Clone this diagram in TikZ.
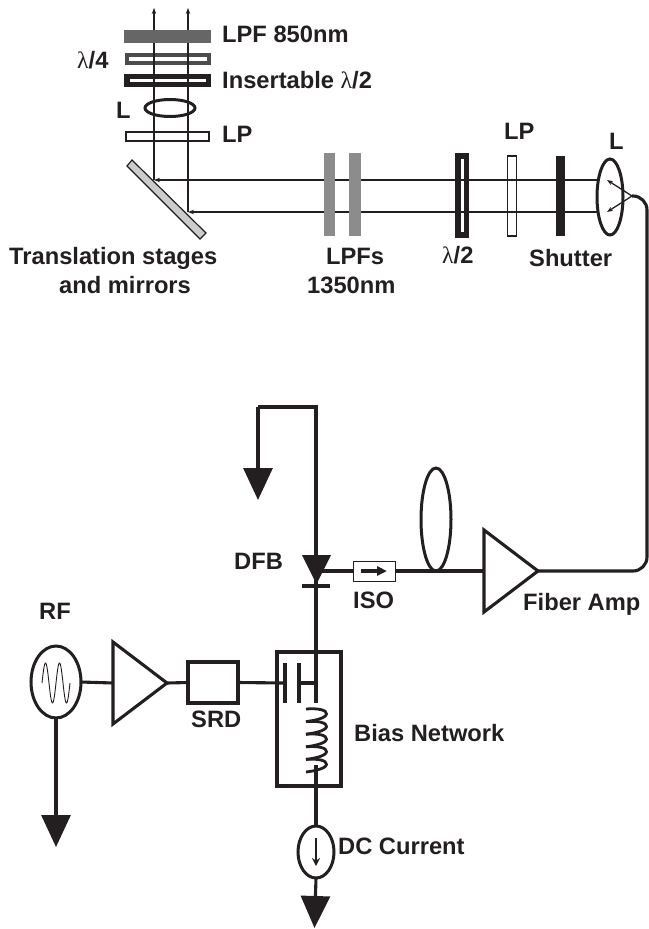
\documentclass[tikz,border=0pt]{standalone}
\usepackage{fontspec}
\setmainfont{Liberation Sans}
\newfontfamily\lambdafont{Liberation Serif}
\usetikzlibrary{arrows.meta,shapes.geometric}
\definecolor{inkblack}{HTML}{231F20}
\newcommand{\lam}{{\lambdafont\mdseries λ}}
\begin{document}
\begin{tikzpicture}[x=1pt, y=-1pt,
    wire/.style={draw=inkblack, line width=3.1pt},
    beam/.style={draw=inkblack, line width=1.3pt},
    ground/.style={wire, -{Triangle[length=32pt,width=29pt,inkblack]}},
    tiny arrow/.style={beam, -{Stealth[length=6pt,width=4.5pt,inkblack]}},
    label/.style={font=\fontsize{23.7}{27}\selectfont\bfseries, text=inkblack, inner sep=0pt, anchor=base west},
    plate/.style={rectangle, inner sep=0pt, outer sep=0pt},
    filter/.style={plate, fill=#1},
    lens/.style={ellipse, draw=inkblack, fill=none, line width=3pt, inner sep=0pt, outer sep=0pt},
    amp/.style={isosceles triangle, isosceles triangle stretches, draw=inkblack, line width=3.1pt,
        inner sep=0pt, outer sep=0pt, minimum width=82pt, minimum height=54pt, anchor=lower side},
    sourcebox/.style={rectangle, draw=inkblack, line width=3.1pt, inner sep=0pt, outer sep=0pt}
]

\useasboundingbox (0,0) rectangle (648,929);

%%%%%%%%%%%%%%%%%%%%%%%%
% Wave plates, under the beams
%%%%%%%%%%%%%%%%%%%%%%%%

\node[filter={black!70}, minimum width=86pt, minimum height=12pt] (quarter) at (168,59) {};
\node[filter=white, minimum width=78pt, minimum height=4pt] (quartergap) at (168,59) {};

\node[filter=inkblack, minimum width=87pt, minimum height=13pt] (half) at (167.5,80.5) {};
\node[filter=white, minimum width=76pt, minimum height=3pt] (halfgap) at (168,80.5) {};

\node[filter=inkblack, minimum width=14pt, minimum height=85pt] (halfb) at (462,195.5) {};
\node[filter=white, minimum width=3pt, minimum height=73pt] (halfbgap) at (462.5,195.5) {};

%%%%%%%%%%%%%%%%%%%%%%%%
% Free space beams
%%%%%%%%%%%%%%%%%%%%%%%%

% --- Points on the beams ---
\coordinate (topa) at (154,8);
\coordinate (topb) at (188,8);
\coordinate (mira) at (154,180);
\coordinate (mirb) at (188,212);
\coordinate (lensa) at (598,180);
\coordinate (lensb) at (598,212);
\coordinate (fibertip) at (632,196);
\coordinate (spota) at (607,180);
\coordinate (spotb) at (607,212);

\draw[tiny arrow] (mira) -- (topa);
\draw[tiny arrow] (mirb) -- (topb);
\draw[tiny arrow] (lensa) -- (mira);
\draw[tiny arrow] (lensb) -- (mirb);
\draw[tiny arrow] (fibertip) -- (spota);
\draw[tiny arrow] (fibertip) -- (spotb);

%%%%%%%%%%%%%%%%%%%%%%%%
% Upper optics
%%%%%%%%%%%%%%%%%%%%%%%%

\node[filter={black!60}, minimum width=87pt, minimum height=13pt] (lpfshort) at (167.5,36.5) {};

\node[lens, minimum width=50pt, minimum height=17pt] (lensup) at (170,108) {};
\node[plate, draw=inkblack, line width=1.5pt, minimum width=83pt, minimum height=9pt] (lpup) at (167.5,136.5) {};

% --- Mirror ---
\draw[fill=black!20, draw=inkblack, line width=1.2pt] (132,160) -- (127,166) -- (200,239) -- (206,233) -- cycle;

%%%%%%%%%%%%%%%%%%%%%%%%
% Beam line optics
%%%%%%%%%%%%%%%%%%%%%%%%

\node[filter={black!45}, minimum width=11pt, minimum height=83pt] (lpfa) at (329.5,194.5) {};
\node[filter={black!45}, minimum width=12pt, minimum height=83pt] (lpfb) at (355,194.5) {};

\node[plate, draw=inkblack, line width=1.5pt, minimum width=9pt, minimum height=80pt] (lpb) at (512,196) {};

\node[filter=inkblack, minimum width=9pt, minimum height=80pt] (shutter) at (560.5,196) {};

\node[lens, minimum width=26pt, minimum height=76pt] (lensb0) at (610,197) {};

%%%%%%%%%%%%%%%%%%%%%%%%
% Laser and fiber
%%%%%%%%%%%%%%%%%%%%%%%%

\coordinate (wiretop) at (316,407);
\coordinate (wireleft) at (258,407);
\coordinate (dfbgnd) at (258,500);
\coordinate (dfbout) at (316,571);
\coordinate (capjoin) at (316,683);
\coordinate (capend) at (316,703);
\coordinate (corner) at (647,571);

\draw[wire, line join=miter] (capend) -- (wiretop) -- (wireleft);
\draw[ground] (wireleft) -- (dfbgnd);

% --- Diode ---
\fill[inkblack] (302,555) -- (331,555) -- (316.5,584) -- cycle;
\draw[wire] (302,586) -- (330,586);

\node[sourcebox, line width=1pt, minimum width=42pt, minimum height=20pt] (iso) at (374,571) {};
\draw[wire, -{Triangle[length=10pt,width=9pt,inkblack]}] (361,571) -- (387,571);

\node[lens, minimum width=30pt, minimum height=103pt] (loop) at (436,519.5) {};
\node[amp] (fiberamp) at (484,571) {};

\draw[wire] (dfbout) -- (iso.west);
\draw[wire] (iso.east) -- (fiberamp.lower side);
\draw[wire, rounded corners=14pt] (fiberamp.apex) -- (corner) -- (647,196) -- (fibertip);

%%%%%%%%%%%%%%%%%%%%%%%%
% RF drive
%%%%%%%%%%%%%%%%%%%%%%%%

\node[lens, minimum width=50pt, minimum height=72pt] (rfsrc) at (56,682) {};
\draw[inkblack, line width=0.9pt, domain=0:720, samples=120, smooth]
    plot ({42+\x/720*28}, {683-20*sin(\x)});
\coordinate (rfgnd) at (56,847);
\draw[ground] (rfsrc.south) -- (rfgnd);

\node[amp] (rfamp) at (113,683) {};
\node[sourcebox, minimum width=50pt, minimum height=41pt] (srd) at (213,682.5) {};

\draw[wire] (rfsrc.east) -- (rfamp.lower side);
\draw[wire] (rfamp.apex) -- (srd.west);

%%%%%%%%%%%%%%%%%%%%%%%%
% Bias network
%%%%%%%%%%%%%%%%%%%%%%%%

\node[sourcebox, minimum width=64pt, minimum height=134pt] (bias) at (309,719) {};

% --- Capacitor ---
\coordinate (platea) at (285,683);
\coordinate (plateb) at (299,683);
\draw[wire] (285,663) -- (285,703);
\draw[wire] (299,663) -- (299,703);
\draw[wire] (srd.east) -- (platea);
\draw[wire] (plateb) -- (capjoin);

% --- Coil ---
\foreach \turn in {0,...,4} {
    \draw[wire, line width=2.8pt] (306,709+12.6*\turn)
        .. controls (318,708+12.6*\turn) and (327,710+12.6*\turn) .. (326.5,714+12.6*\turn)
        .. controls (326,718+12.6*\turn) and (315,720.5+12.6*\turn) .. (306,721.6+12.6*\turn);
}

% --- Current source ---
\node[lens, minimum width=36pt, minimum height=52pt] (dcsrc) at (316,852) {};
\coordinate (coilend) at (316,765);
\coordinate (dcgnd) at (314.5,928);
\coordinate (dcup) at (316,838);
\coordinate (dcdown) at (316,866);
\draw[wire] (coilend) -- (dcsrc.north);
\draw[ground] (dcsrc.south) -- (dcgnd);
\draw[draw=inkblack, line width=1.6pt, -{Stealth[length=8pt,width=8pt,inkblack]}] (dcup) -- (dcdown);

%%%%%%%%%%%%%%%%%%%%%%%%
% Labels
%%%%%%%%%%%%%%%%%%%%%%%%

\node[label] (tlpf) at (222,42) {LPF 850nm};
\node[label] (tquarter) at (77,68) {\lam/4};
\node[label] (tinsert) at (222,88) {Insertable \lam/2};
\node[label] (tl) at (116,118) {L};
\node[label] (tlp) at (222,142.5) {LP};
\node[label] (ttrans) at (9,264) {Translation stages};
\node[label] (tmirror) at (59,293) {and mirrors};
\node[label] (tlpfs) at (326,264) {LPFs};
\node[label] (tnm) at (307,293) {1350nm};
\node[label] (thalf) at (442,263) {\lam/2};
\node[label] (tlpb) at (504,139) {LP};
\node[label] (tlb) at (609,149) {L};
\node[label] (tshutter) at (529,266) {Shutter};
\node[label] (tdfb) at (234,569) {DFB};
\node[label] (tiso) at (353,608) {ISO};
\node[label] (tfiber) at (523,610) {Fiber Amp};
\node[label] (trf) at (39,619) {RF};
\node[label] (tsrd) at (191,727) {SRD};
\node[label] (tbias) at (354,741) {Bias Network};
\node[label] (tdc) at (338,854) {DC Current};

\end{tikzpicture}
\end{document}
